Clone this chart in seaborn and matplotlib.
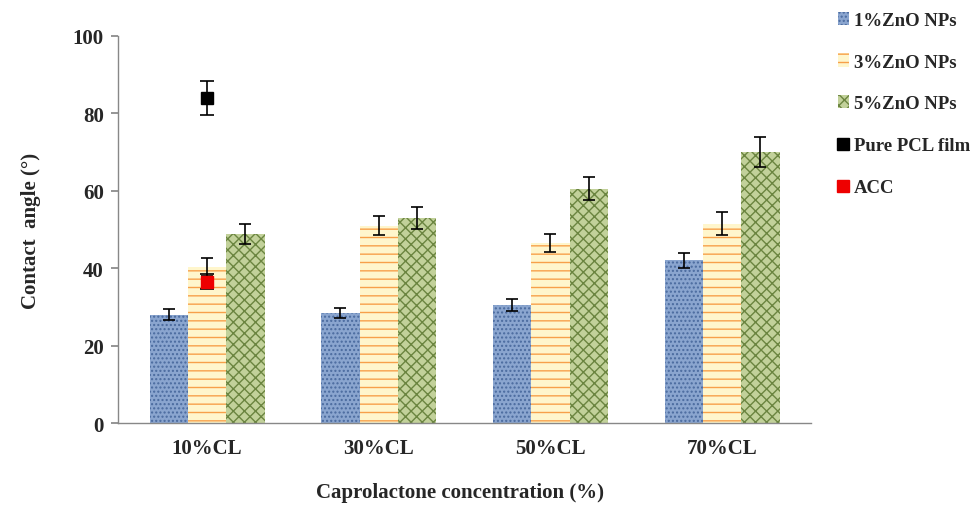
import matplotlib
matplotlib.use("Agg")
import matplotlib.pyplot as plt
import seaborn as sns
import pandas as pd
import numpy as np
from matplotlib.patches import Patch
from matplotlib.lines import Line2D

categories = ["10%CL", "30%CL", "50%CL", "70%CL"]
series = ["1%ZnO NPs", "3%ZnO NPs", "5%ZnO NPs"]
vals_1 = [28.0, 28.5, 30.5, 42.0]
vals_3 = [40.3, 51.0, 46.5, 51.5]
vals_5 = [48.8, 53.0, 60.5, 70.0]
err_1 = [1.5, 1.3, 1.5, 2.0]
err_3 = [2.3, 2.5, 2.3, 3.0]
err_5 = [2.5, 2.8, 3.0, 3.8]
pure_pcl = 84.0
pure_pcl_err = 4.3
acc = 36.5
acc_err = 2.0

sns.set_theme(style="white")
plt.rcParams['font.family'] = ['Liberation Serif', 'DejaVu Serif']
plt.rcParams['font.weight'] = 'bold'
plt.rcParams['hatch.linewidth'] = 1.0

df = pd.DataFrame({
    "cat": categories * 3,
    "series": [series[0]] * 4 + [series[1]] * 4 + [series[2]] * 4,
    "val": vals_1 + vals_3 + vals_5,
})

fig = plt.figure(figsize=(9.74, 5.06), dpi=100)
ax = fig.add_axes([0.121, 0.162, 0.712, 0.765])

face = ["#8aa5cf", "#fff6cc", "#c2d19a"]
hcol = ["#4a6a9e", "#f7a04a", "#6b8540"]
hatches = ["....", "--", "xxx"]

sns.barplot(data=df, x="cat", y="val", hue="series", order=categories,
            hue_order=series, errorbar=None, width=0.67, ax=ax,
            legend=False, saturation=1)

bar_containers = list(ax.containers)
for i, container in enumerate(bar_containers):
    errs = [err_1, err_3, err_5][i]
    xs, ys = [], []
    for j, bar in enumerate(container):
        bar.set_facecolor(face[i])
        bar.set_edgecolor(hcol[i])
        bar.set_hatch(hatches[i])
        bar.set_linewidth(0)
        xs.append(bar.get_x() + bar.get_width() / 2)
        ys.append(bar.get_height())
    ax.errorbar(xs, ys, yerr=errs, fmt="none", ecolor="black",
                elinewidth=1.2, capsize=4, capthick=1.2, zorder=5)

ax.errorbar([0], [pure_pcl], yerr=[pure_pcl_err], fmt="s", color="black",
            ms=8, ecolor="black", elinewidth=1.2, capsize=5, capthick=1.2, zorder=6)
ax.errorbar([0], [acc], yerr=[acc_err], fmt="s", color="#ee0000",
            ms=8, ecolor="black", elinewidth=1.2, capsize=5, capthick=1.2, zorder=6)

ax.set_ylim(0, 100)
ax.set_yticks([0, 20, 40, 60, 80, 100])
ax.set_xlim(-0.52, 3.52)
for s in ["top", "right"]:
    ax.spines[s].set_visible(False)
for s in ["left", "bottom"]:
    ax.spines[s].set_color("#888888")
    ax.spines[s].set_linewidth(1)
ax.tick_params(axis="y", left=True, length=5, color="#888888", labelsize=15, pad=5)
ax.tick_params(axis="x", bottom=False, labelsize=15, pad=5)
for lab in ax.get_xticklabels() + ax.get_yticklabels():
    lab.set_fontweight("bold")
ax.set_xlabel("")
ax.set_ylabel("Contact  angle (°)", fontsize=15, fontweight="bold", labelpad=23)
fig.text(0.472, 0.025, "Caprolactone concentration (%)", ha="center", va="center",
         fontsize=15, fontweight="bold")

handles = [Patch(facecolor=face[i], edgecolor=hcol[i], hatch=hatches[i], linewidth=0) for i in range(3)]
handles += [Line2D([], [], marker="s", color="black", linestyle="none", ms=8),
            Line2D([], [], marker="s", color="#ee0000", linestyle="none", ms=8)]
labels = series + ["Pure PCL film", "ACC"]
fig.legend(handles, labels, loc="upper left", bbox_to_anchor=(0.853, 0.99),
           frameon=False, prop={"weight": "bold", "size": 13.5},
           handlelength=0.55, handleheight=0.7, handletextpad=0.3, labelspacing=1.32,
           borderaxespad=0)

fig.savefig("out.png", dpi=100)
